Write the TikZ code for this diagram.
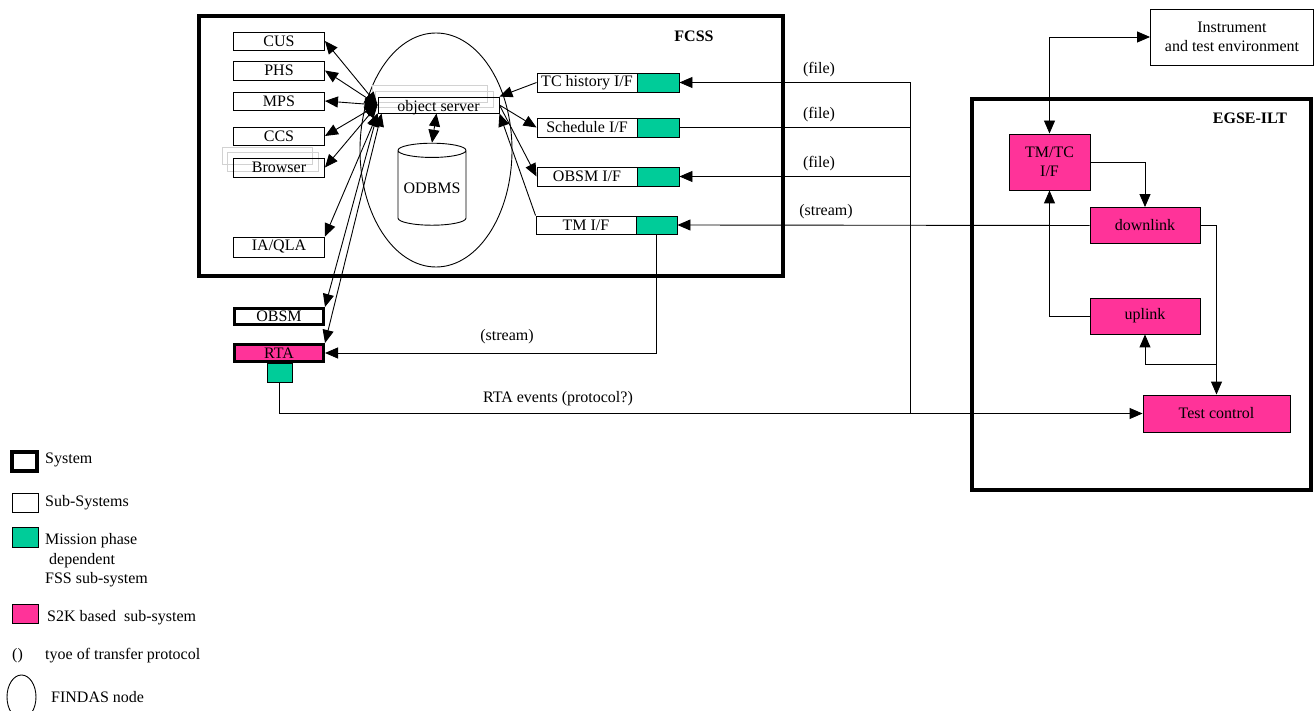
\documentclass[tikz,border=0pt]{standalone}
\usepackage{fontspec}
\setmainfont{Liberation Serif}
\usetikzlibrary{shapes.geometric,arrows.meta}
\definecolor{mgreen}{RGB}{0,204,153}
\definecolor{mpink}{RGB}{255,51,153}
\begin{document}
\begin{tikzpicture}[x=1pt,y=-1pt,font=\fontsize{16}{19}\selectfont,
  sub/.style={draw,line width=0.9pt,inner sep=0pt},
  sys/.style={draw,line width=4pt,inner sep=0pt},
  gbox/.style={sub,fill=mgreen},
  pbox/.style={sub,fill=mpink},
  shadowbox/.style={draw=gray!35,line width=0.8pt,inner sep=0pt},
  arr/.style={-{Triangle[length=13pt,width=11pt]},line width=0.9pt},
  darr/.style={{Triangle[length=13pt,width=11pt]}-{Triangle[length=13pt,width=11pt]},line width=0.9pt},
  conn/.style={line width=0.9pt},
  lbl/.style={inner sep=0pt}]
\useasboundingbox (0,0) rectangle (1315,711);

% FCSS system
\node[sys,minimum width=584,minimum height=260] (fcss) at (491,146) {};
\node[lbl,font=\fontsize{16}{19}\selectfont\bfseries] (fcsslbl) at (694,36) {FCSS};

% FINDAS node
\node[draw,ellipse,line width=0.9pt,minimum width=152,minimum height=234,inner sep=0pt] (findas) at (436,150) {};

% left sub-systems
\node[sub,minimum width=91,minimum height=18] (cus) at (279,41) {CUS};
\node[sub,minimum width=91,minimum height=19] (phs) at (279,70.5) {PHS};
\node[sub,minimum width=91,minimum height=18] (mps) at (279,101) {MPS};
\node[sub,minimum width=91,minimum height=18] (ccs) at (279,136) {CCS};
\node[shadowbox,minimum width=90,minimum height=17] (sh1) at (267,155.5) {};
\node[shadowbox,minimum width=91,minimum height=19] (sh2) at (272.5,161.5) {};
\node[sub,minimum width=91,minimum height=19] (browser) at (279,167.5) {Browser};
\node[sub,minimum width=91,minimum height=20] (iaqla) at (279,247) {IA/QLA};

% object server
\node[shadowbox,minimum width=115,minimum height=17] (sh3) at (429.5,93.5) {};
\node[shadowbox,minimum width=118,minimum height=16] (sh4) at (434,99) {};
\node[sub,minimum width=121,minimum height=16] (os) at (438.5,105) {};
\node[lbl,anchor=base] (oslbl) at (438.5,112) {object server};

% ODBMS
\node[draw,cylinder,shape border rotate=90,aspect=0.25,line width=0.9pt,minimum width=68,minimum height=82,inner sep=0pt] (odbms) at (432,188) {ODBMS};

% interfaces
\node[sub,minimum width=100,minimum height=19] (tch) at (587,82.5) {TC history I/F};
\node[gbox,minimum width=42,minimum height=19] (tchg) at (658,82.5) {};
\node[sub,minimum width=100,minimum height=19] (sched) at (587,127.5) {Schedule I/F};
\node[gbox,minimum width=42,minimum height=19] (schedg) at (658,127.5) {};
\node[sub,minimum width=100,minimum height=19] (obsmif) at (587,176.5) {OBSM I/F};
\node[gbox,minimum width=42,minimum height=19] (obsmifg) at (658,176.5) {};
\node[sub,minimum width=100,minimum height=18] (tmif) at (586,225) {TM I/F};
\node[gbox,minimum width=41,minimum height=18] (tmifg) at (656.5,225) {};

% OBSM and RTA
\node[sub,line width=3pt,minimum width=89,minimum height=16] (obsm) at (279,316.5) {OBSM};
\node[pbox,line width=3pt,minimum width=89,minimum height=17] (rta) at (279,353) {RTA};
\node[gbox,minimum width=25,minimum height=19] (rtag) at (279.5,372.5) {};

% EGSE-ILT
\node[sys,minimum width=339,minimum height=391] (egse) at (1141.5,294.5) {};
\node[lbl,font=\fontsize{16}{19}\selectfont\bfseries] (egselbl) at (1250,118) {EGSE-ILT};
\node[sub,minimum width=163,minimum height=56,align=center] (instr) at (1232,37) {Instrument\\and test environment};
\node[pbox,minimum width=81,minimum height=56,align=center] (tmtc) at (1049.5,162) {TM/TC\\I/F};
\node[pbox,minimum width=110,minimum height=36] (downlink) at (1145,225.5) {downlink};
\node[pbox,minimum width=110,minimum height=36] (uplink) at (1145,316) {uplink};
\node[pbox,minimum width=147,minimum height=37] (testctl) at (1216.5,413.5) {Test control};

% connectors: object server hub
\draw[darr] (os.west) -- (cus.east);
\draw[darr] (os.west) -- (phs.east);
\draw[darr] (os.west) -- (mps.east);
\draw[darr] (os.west) -- (ccs.east);
\draw[darr] (os.west) -- (browser.east);
\draw[darr] (os.south west) -- (iaqla.north east);
\draw[darr] (os.south west) -- (obsm.north east);
\draw[darr] ([xshift=4pt]os.south west) -- (rta.north east);
\draw[darr] ([xshift=-2pt]os.south) -- (odbms.north);
\draw[arr] (tch.west) -- (os.north east);
\draw[arr] (os.east) -- (sched.west);
\draw[arr] (os.east) -- (obsmif.west);
\draw[arr] (tmif.north west) -- (os.south east);

% external file/stream links
\coordinate (b1) at (910,82.5);
\coordinate (b2) at (910,127.5);
\coordinate (b3) at (910,176.5);
\coordinate (b4) at (910,413.5);
\draw[conn] (b1) -- (b4);
\draw[arr] (b1) -- (tchg.east);
\draw[conn] (b2) -- (schedg.east);
\draw[arr] (b3) -- (obsmifg.east);
\draw[arr] (downlink.west) -- (tmifg.east);
\node[lbl] (f1) at (819,70) {(file)};
\node[lbl] (f2) at (819,115) {(file)};
\node[lbl] (f3) at (819,164) {(file)};
\node[lbl] (s1) at (826,212) {(stream)};

\draw[arr] (tmifg.south) |- (rta.east);
\node[lbl] (s2) at (507,337) {(stream)};
\draw[arr] (rtag.south) |- (testctl.west);
\node[lbl] (rtaev) at (558,399) {RTA events (protocol?)};

% EGSE internal
\draw[darr] (tmtc.north) |- (instr.west);
\draw[arr] (tmtc.east) -| (downlink.north);
\draw[arr] (downlink.east) -| (testctl.north);
\draw[arr] (uplink.west) -| (tmtc.south);
\coordinate (j1) at (1216.5,364);
\draw[arr] (j1) -| (uplink.south);

% legend
\node[sys,line width=3.5pt,minimum width=25,minimum height=19] (lsys) at (24.5,461.5) {};
\node[lbl,anchor=west] (tsys) at (45,460) {System};
\node[sub,minimum width=26,minimum height=19] (lsub) at (25,502.5) {};
\node[lbl,anchor=west] (tsub) at (45,503) {Sub-Systems};
\node[gbox,minimum width=26,minimum height=20] (lgreen) at (25,537) {};
\node[lbl,anchor=west,align=left,font=\fontsize{16}{19.5}\selectfont] (tgreen) at (45,560.5) {Mission phase\\\hspace*{4pt}dependent\\FSS sub-system};
\node[pbox,minimum width=26,minimum height=19] (lpink) at (25,613.5) {};
\node[lbl,anchor=west] (tpink) at (47,618) {S2K based\ \ sub-system};
\node[lbl] (tpar) at (17.5,656) {()};
\node[lbl,anchor=west] (tproto) at (45,656) {tyoe of transfer protocol};
\node[draw,ellipse,line width=0.9pt,minimum width=29,minimum height=44,inner sep=0pt] (lell) at (21.5,697) {};
\node[lbl,anchor=west] (tfind) at (51,697) {FINDAS node};
\end{tikzpicture}
\end{document}
